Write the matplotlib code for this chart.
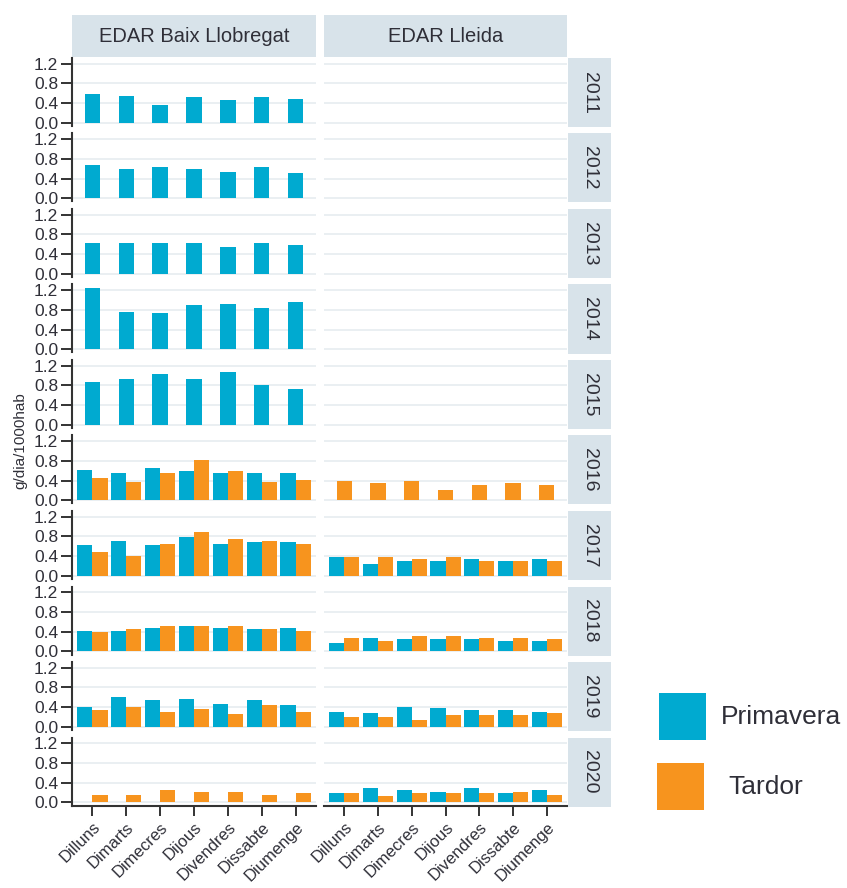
import numpy as np
import matplotlib
matplotlib.use("Agg")
import matplotlib.pyplot as plt
from matplotlib.patches import Rectangle
import matplotlib.transforms as mtransforms

plt.rcParams['font.family'] = ['Liberation Sans', 'DejaVu Sans']

days = ["Dilluns", "Dimarts", "Dimecres", "Dijous", "Divendres", "Dissabte", "Diumenge"]
years = [2011, 2012, 2013, 2014, 2015, 2016, 2017, 2018, 2019, 2020]
sites = ["EDAR Baix Llobregat", "EDAR Lleida"]
seasons = ["Primavera", "Tardor"]
season_colors = ["#00AAD0", "#F7941E"]
yticks = [0.0, 0.4, 0.8, 1.2]

# g/dia/1000hab ; None = no data for that season
baix_primavera = {
    2011: [0.59, 0.55, 0.36, 0.52, 0.46, 0.52, 0.49],
    2012: [0.67, 0.60, 0.635, 0.60, 0.54, 0.635, 0.51],
    2013: [0.62, 0.62, 0.62, 0.62, 0.55, 0.62, 0.59],
    2014: [1.25, 0.76, 0.73, 0.89, 0.92, 0.83, 0.95],
    2015: [0.87, 0.93, 1.03, 0.93, 1.06, 0.80, 0.73],
    2016: [0.62, 0.55, 0.65, 0.59, 0.55, 0.55, 0.55],
    2017: [0.615, 0.71, 0.615, 0.78, 0.65, 0.68, 0.68],
    2018: [0.41, 0.41, 0.48, 0.52, 0.48, 0.455, 0.48],
    2019: [0.405, 0.60, 0.535, 0.57, 0.47, 0.535, 0.44],
    2020: [0.0, 0.0, 0.0, 0.0, 0.0, 0.0, 0.0],
}
baix_tardor = {
    2011: None, 2012: None, 2013: None, 2014: None, 2015: None,
    2016: [0.445, 0.38, 0.55, 0.82, 0.59, 0.38, 0.41],
    2017: [0.475, 0.405, 0.65, 0.88, 0.75, 0.71, 0.64],
    2018: [0.386, 0.455, 0.52, 0.52, 0.52, 0.455, 0.41],
    2019: [0.34, 0.405, 0.30, 0.37, 0.27, 0.44, 0.30],
    2020: [0.15, 0.15, 0.255, 0.22, 0.22, 0.15, 0.185],
}
lleida_primavera = {
    2011: None, 2012: None, 2013: None, 2014: None, 2015: None, 2016: None,
    2017: [0.39, 0.24, 0.31, 0.31, 0.35, 0.31, 0.35],
    2018: [0.18, 0.28, 0.25, 0.25, 0.25, 0.21, 0.21],
    2019: [0.31, 0.28, 0.41, 0.38, 0.345, 0.345, 0.31],
    2020: [0.185, 0.29, 0.255, 0.22, 0.29, 0.185, 0.255],
}
lleida_tardor = {
    2011: None, 2012: None, 2013: None, 2014: None, 2015: None,
    2016: [0.385, 0.355, 0.385, 0.21, 0.31, 0.355, 0.31],
    2017: [0.39, 0.39, 0.35, 0.39, 0.31, 0.31, 0.31],
    2018: [0.28, 0.21, 0.32, 0.32, 0.28, 0.28, 0.25],
    2019: [0.21, 0.21, 0.14, 0.24, 0.24, 0.24, 0.28],
    2020: [0.185, 0.12, 0.185, 0.185, 0.185, 0.22, 0.15],
}
site_data = [(baix_primavera, baix_tardor), (lleida_primavera, lleida_tardor)]

W, H = 847, 888
fig = plt.figure(figsize=(W / 100, H / 100), dpi=100)

def px_axes(x0, y0, x1, y1, **kw):
    return fig.add_axes([x0 / W, 1 - y1 / H, (x1 - x0) / W, (y1 - y0) / H], **kw)

col_x = [(72, 316), (324, 567)]
strip_x = (568, 611)
row_top0, row_pitch, row_h = 58, 75.5, 68
strip_fc = "#D8E3EA"
text_c = "#2F2F38"
grid_c = "#E8EEF1"
axis_c = "#333333"

x = np.arange(len(days))
bw = 0.45

# column strips
for c, site in enumerate(sites):
    sax = px_axes(col_x[c][0], 15, col_x[c][1], 57)
    sax.set_facecolor(strip_fc)
    sax.set_xticks([]); sax.set_yticks([])
    for s in sax.spines.values():
        s.set_visible(False)
    sax.text(0.5, 0.5, site, ha="center", va="center", fontsize=14.5, color=text_c,
             transform=sax.transAxes)

for r, yr in enumerate(years):
    top = row_top0 + r * row_pitch
    bot = top + row_h
    for c in range(2):
        ax = px_axes(col_x[c][0], top, col_x[c][1], bot)
        ax.set_xlim(-0.6, len(days) - 0.4)
        ax.set_ylim(-0.0625, 1.3125)
        for yv in yticks:
            ax.axhline(yv, color=grid_c, lw=1.3, zorder=0)
        prim, tard = site_data[c][0][yr], site_data[c][1][yr]
        series = [prim, tard]
        present = [s is not None for s in series]
        for k, vals in enumerate(series):
            if vals is None:
                continue
            if all(present):
                offs = (k - 0.5) * bw
            else:
                offs = 0.0
            ax.bar(x + offs, vals, width=bw, color=season_colors[k], linewidth=0, zorder=2)
        for s in ["top", "right"]:
            ax.spines[s].set_visible(False)
        if c == 0:
            ax.spines["left"].set_color(axis_c)
            ax.spines["left"].set_linewidth(1.5)
            ax.set_yticks(yticks)
            ax.set_yticklabels([f"{v:.1f}" for v in yticks], fontsize=12.5, color=text_c)
            ax.tick_params(axis="y", length=8, width=1.4, color=axis_c, pad=2)
        else:
            ax.spines["left"].set_visible(False)
            ax.set_yticks([])
        if r == len(years) - 1:
            ax.spines["bottom"].set_color(axis_c)
            ax.spines["bottom"].set_linewidth(1.5)
            ax.set_xticks(x)
            labs = ax.set_xticklabels(days, fontsize=12, color=text_c, rotation=45,
                                      ha="right", va="top", rotation_mode="anchor")
            off = mtransforms.ScaledTranslation(11 / 100, -3 / 100, fig.dpi_scale_trans)
            for lab in labs:
                lab.set_transform(lab.get_transform() + off)
            ax.tick_params(axis="x", length=7, width=1.4, color=axis_c, pad=3)
        else:
            ax.spines["bottom"].set_visible(False)
            ax.set_xticks([])
    # year strip
    yax = px_axes(strip_x[0], top, strip_x[1], top + 69)
    yax.set_facecolor(strip_fc)
    yax.set_xticks([]); yax.set_yticks([])
    for s in yax.spines.values():
        s.set_visible(False)
    yax.text(0.5, 0.5, str(yr), ha="center", va="center", rotation=-90, fontsize=14,
             color=text_c, transform=yax.transAxes)

fig.text(20 / W, 1 - 441 / H, "g/dia/1000hab", rotation=90, ha="center", va="center",
         fontsize=11, color=text_c)

# legend
lax = px_axes(640, 680, 847, 820)
lax.set_xlim(640, 847)
lax.set_ylim(820, 680)
lax.axis("off")
leg_pos = [(659, 693, 721, 717), (657, 763, 728, 787)]
for k, (sx, sy, tx, ty) in enumerate(leg_pos):
    lax.add_patch(Rectangle((sx, sy), 47, 47, facecolor=season_colors[k], edgecolor="none"))
    lax.text(tx, ty, seasons[k], ha="left", va="center", fontsize=19, color=text_c)

fig.savefig("out.png", dpi=100)
